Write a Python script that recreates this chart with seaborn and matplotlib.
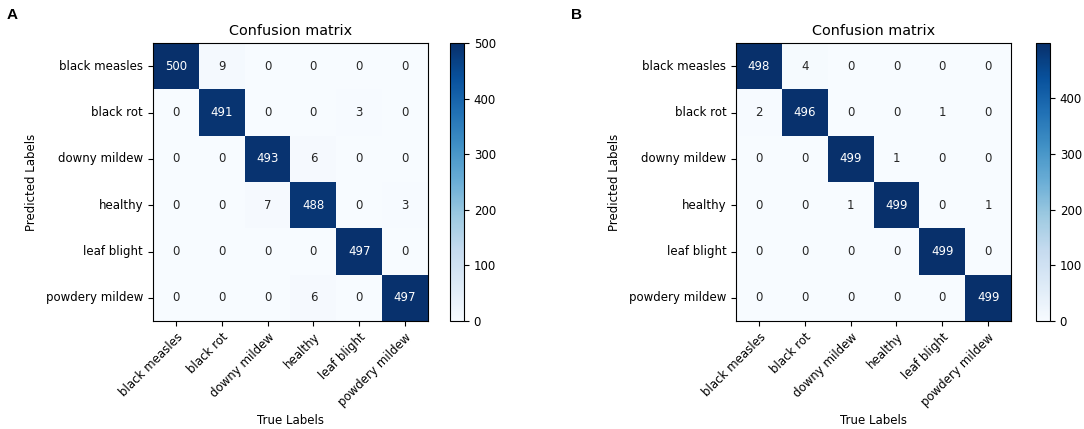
import numpy as np
import matplotlib
matplotlib.use("Agg")
import matplotlib.pyplot as plt
import seaborn as sns

# class names (same order on both axes)
classes = ['black measles', 'black rot', 'downy mildew', 'healthy', 'leaf blight', 'powdery mildew']

# rows = predicted, cols = true
cm_a = [
    [500, 9, 0, 0, 0, 0],
    [0, 491, 0, 0, 3, 0],
    [0, 0, 493, 6, 0, 0],
    [0, 0, 7, 488, 0, 3],
    [0, 0, 0, 0, 497, 0],
    [0, 0, 0, 6, 0, 497],
]
cm_b = [
    [498, 4, 0, 0, 0, 0],
    [2, 496, 0, 0, 1, 0],
    [0, 0, 499, 1, 0, 0],
    [0, 0, 1, 499, 0, 1],
    [0, 0, 0, 0, 499, 0],
    [0, 0, 0, 0, 0, 499],
]
panels = ['A', 'B']

FS = 8.5

fig = plt.figure(figsize=(10.84, 4.29), dpi=100)

# posizioni: [heatmap left, colorbar left, panel letter x]
layout = [
    (0.1411, 0.4151, 0.006),
    (0.6790, 0.9557, 0.527),
]

for cm, letter, (ax_left, cb_left, lx) in zip([cm_a, cm_b], panels, layout):
    ax = fig.add_axes([ax_left, 0.2517, 0.2537, 0.648])
    cax = fig.add_axes([cb_left, 0.2517, 0.0129, 0.648])
    sns.heatmap(np.array(cm), annot=True, fmt='d', cmap='Blues', ax=ax, cbar_ax=cax,
                xticklabels=classes, yticklabels=classes,
                annot_kws={'fontsize': FS})
    # bordo nero come in matplotlib
    for s in ax.spines.values():
        s.set_visible(True)
        s.set_linewidth(0.8)
    cb = ax.collections[0].colorbar
    cb.outline.set_visible(True)
    cb.outline.set_linewidth(0.8)
    cb.ax.tick_params(labelsize=FS)
    ax.tick_params(labelsize=FS, length=3.5)
    plt.setp(ax.get_xticklabels(), rotation=45, ha='right', rotation_mode='anchor')
    plt.setp(ax.get_yticklabels(), rotation=0)
    ax.set_title('Confusion matrix', fontsize=10.4)
    ax.set_xlabel('True Labels', fontsize=FS)
    ax.set_ylabel('Predicted Labels', fontsize=FS, labelpad=6)
    fig.text(lx, 0.982, letter, fontsize=11, fontweight='bold', va='top',
             family=['Liberation Sans', 'DejaVu Sans'])

plt.savefig('out.png', dpi=100)
